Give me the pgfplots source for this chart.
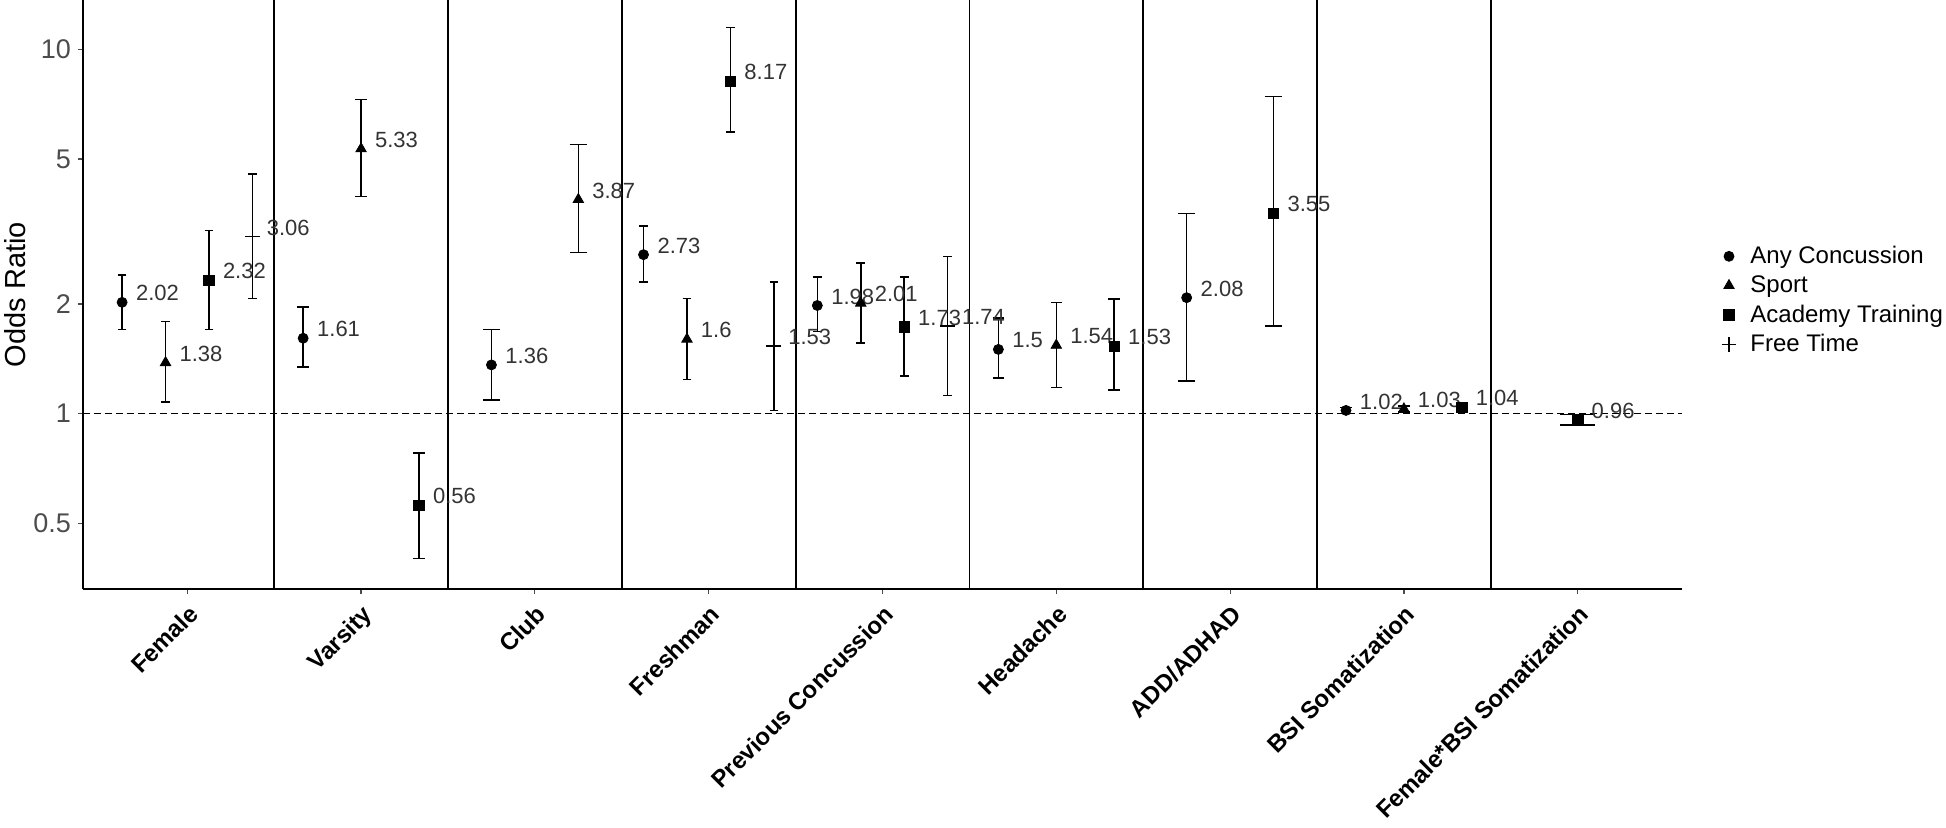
\documentclass[border=0pt]{standalone}
\usepackage{pgfplots}
\pgfplotsset{compat=1.18}
\usepackage{fontspec}
\setmainfont{Liberation Sans}
\pgfplotsset{
  ebar/.style={only marks, black, forget plot,
    nodes near coords, point meta=explicit symbolic,
    every node near coord/.style={anchor=west, inner sep=0pt, xshift=6.8pt, yshift=4.5pt,
      font=\fontsize{11}{13}\selectfont, text=black!80},
    error bars/y dir=both, error bars/y explicit,
    error bars/error bar style={line width=0.8pt, black},
    error bars/error mark options={rotate=90, mark size=#1, line width=0.8pt, black}},
  /pgfplots/table/ebt/.style={x=x, y=y, y error plus expr=\thisrow{hi}-\thisrow{y}, y error minus expr=\thisrow{y}-\thisrow{lo}, meta=lab},
}
\begin{document}
\begin{tikzpicture}
\path[use as bounding box] (-41.5pt,-119.5pt) rectangle (931.5pt,294.5pt);
\begin{axis}[
  at={(0pt,0pt)}, anchor=south west,
  scale only axis, width=799.5pt, height=294.5pt,
  ymode=log, ymin=0.33, ymax=13.65,
  xmin=0.4, xmax=9.6,
  axis lines*=left, axis line style={-, line width=0.8pt, black},
  tick align=outside, major tick length=2.5pt,
  tick style={black!70, line width=0.6pt},
  ytick={0.5,1,2,5,10}, yticklabels={0.5,1,2,5,10},
  yticklabel style={font=\fontsize{13.5}{16}\selectfont, text=black!70},
  xtick={1,2,3,4,5,6,7,8,9},
  xticklabels={{Female},{Varsity},{Club},{Freshman},{Previous Concussion},{Headache},{ADD/ADHAD},{BSI Somatization},{Female*BSI Somatization}},
  xticklabel style={font=\bfseries\fontsize{12}{14}\selectfont, rotate=45, anchor=north east, text=black},
  extra x ticks={1.5,2.5,3.5,4.5,5.5,6.5,7.5,8.5},
  extra x tick labels={},
  extra x tick style={grid=major, major grid style={black, line width=0.9pt}, major tick length=0pt},
  minor tick num=0,
  log basis y=10,
  /pgf/number format/assume math mode=true,
  ylabel={Odds Ratio},
  ylabel style={at={(axis description cs:-0.0313,0.5)}, anchor=south, font=\fontsize{14.5}{17}\selectfont, text=black},
  legend style={at={(1.0245,0.49)}, anchor=west, draw=none, fill=none, inner sep=0pt,
    font=\fontsize{12}{14}\selectfont, row sep=0.6pt, legend cell align=left},
  clip=false,
]
\addplot[black, line width=0.7pt, dash pattern=on 3.3pt off 2.2pt, forget plot] coordinates {(0.4,1) (9.6,1)};

% Any Concussion (circles)
\addplot[ebar=2.17pt, mark=*, mark size=2.5pt] table[ebt] {
x y lo hi lab
0.625 2.02 1.70 2.40 2.02
3.625 2.73 2.30 3.27 2.73
4.625 1.98 1.68 2.37 1.98
};
\addplot[ebar=2.9pt, mark=*, mark size=2.5pt] table[ebt] {
x y lo hi lab
1.6667 1.61 1.34 1.96 1.61
5.6667 1.50 1.25 1.83 1.5
7.6667 1.02 1.00 1.04 1.02
};
\addplot[ebar=4.35pt, mark=*, mark size=2.5pt] table[ebt] {
x y lo hi lab
2.75 1.36 1.09 1.70 1.36
6.75 2.08 1.23 3.54 2.08
};
% Sport (triangles)
\addplot[ebar=2.17pt, mark=triangle*, mark size=3pt] table[ebt] {
x y lo hi lab
0.875 1.38 1.075 1.79 1.38
3.875 1.60 1.24 2.07 1.6
4.875 2.01 1.56 2.59 2.01
};
\addplot[ebar=2.9pt, mark=triangle*, mark size=3pt] table[ebt] {
x y lo hi lab
2.0 5.33 3.94 7.27 5.33
6.0 1.54 1.18 2.02 1.54
8.0 1.03 1.01 1.05 1.03
};
\addplot[ebar=4.35pt, mark=triangle*, mark size=3pt] table[ebt] {
x y lo hi lab
3.25 3.87 2.77 5.48 3.87
};
% Academy Training (squares)
\addplot[ebar=2.17pt, mark=square*, mark size=2.6pt] table[ebt] {
x y lo hi lab
1.125 2.32 1.70 3.18 2.32
4.125 8.17 5.92 11.46 8.17
5.125 1.73 1.27 2.37 1.73
};
\addplot[ebar=2.9pt, mark=square*, mark size=2.6pt] table[ebt] {
x y lo hi lab
2.3333 0.56 0.40 0.78 0.56
6.3333 1.53 1.16 2.06 1.53
8.3333 1.04 1.02 1.06 1.04
};
\addplot[ebar=4.35pt, mark=square*, mark size=2.6pt] table[ebt] {
x y lo hi lab
7.25 3.55 1.74 7.41 3.55
};
\addplot[ebar=8.7pt, mark=square*, mark size=2.6pt] table[ebt] {
x y lo hi lab
9.0 0.96 0.93 0.995 0.96
};
% Free Time (plus)
\addplot[ebar=2.17pt, mark=+, mark size=3.7pt, mark options={line width=0.8pt}] table[ebt] {
x y lo hi lab
1.375 3.06 2.07 4.55 3.06
4.375 1.53 1.02 2.30 1.53
5.375 1.74 1.12 2.70 1.74
};

\addlegendimage{only marks, mark=*, mark size=2.5pt, black}
\addlegendentry{\hspace{5pt}Any Concussion}
\addlegendimage{only marks, mark=triangle*, mark size=3pt, black}
\addlegendentry{\hspace{5pt}Sport}
\addlegendimage{only marks, mark=square*, mark size=2.6pt, black}
\addlegendentry{\hspace{5pt}Academy Training}
\addlegendimage{only marks, mark=+, mark size=3.7pt, line width=0.8pt, black}
\addlegendentry{\hspace{5pt}Free Time}
\end{axis}
\end{tikzpicture}
\end{document}
